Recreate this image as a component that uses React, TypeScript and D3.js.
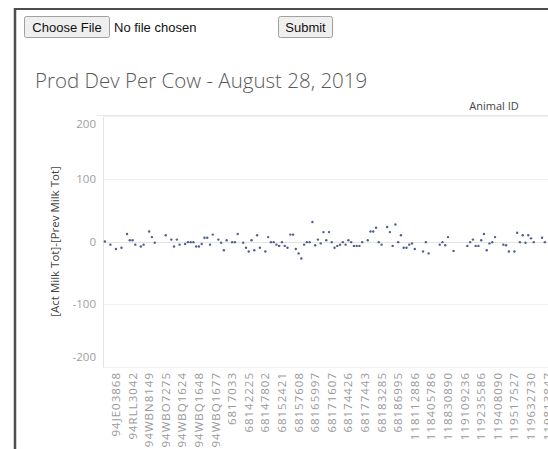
import React from "react";
import * as d3 from "d3";

const W = 548;
const H = 449;

// Tick labels (every 6th animal, starting at the 5th)
const animalLabels: string[] = [
  "94JE03868", "94RLL3042", "94WBN8149", "94WBO7275", "94WBQ1624", "94WBQ1648",
  "94WBQ1677", "6817033", "68142225", "68147802", "68152421", "68157608",
  "68165997", "68171607", "68174426", "68177443", "68183285", "68186995",
  "118112886", "118405786", "118830890", "119109236", "119235586", "119408090",
  "119517527", "119632730", "119813847",
];
const labelStart = 4;
const labelEvery = 6;

// [Act Milk Tot]-[Prev Milk Tot] per animal (null = no value)
const deviations: (number | null)[] = [
  0, null, -5, null, -12, null, -10, null, 12, 2,
  2, -5, null, -8, -5, null, 16, 7, -2, null,
  null, null, 10, null, 3, -8, 3, -5, null, -4,
  -1, -1, -1, -8, -8, -4, 6, 6, -5, 11,
  null, 3, -2, -14, 2, null, -1, -1, 12, null,
  -2, -10, -16, 2, -14, 10, -10, null, -16, 7,
  -1, -1, -5, -7, -1, -7, -10, 11, 11, -12,
  -19, -27, -5, -1, -1, 31, -6, 3, -3, 15,
  2, 15, -1, -10, -7, -5, -1, -5, 2, -1,
  -7, -7, -7, -1, null, 2, 16, 16, 22, -1,
  -5, null, 23, 15, -7, 27, -1, 10, -10, -10,
  -5, -3, -12, null, null, -16, -1, -19, null, null,
  null, -5, -1, -6, 7, null, -15, null, null, null,
  null, -7, -1, 3, -7, -7, 2, 12, -14, -3,
  -1, 7, null, null, -5, -6, -16, null, -16, 14,
  -1, 10, -2, 10, 5, -1, null, null, 6, -1,
  null, null, null, null,
];

const yTicks = [200, 100, 0, -100, -200];

export default function App() {
  const plotTop = 116;
  const plotBottom = 367;
  const plotLeft = 103;
  const step = 2.767;

  const y = d3.scaleLinear().domain([-200, 200]).range([plotBottom, plotTop]);
  const x = d3
    .scaleBand<number>()
    .domain(d3.range(deviations.length))
    .range([plotLeft + 0.5, plotLeft + 0.5 + step * deviations.length])
    .padding(0);
  const cx = (i: number) => (x(i) as number) + x.bandwidth() / 2;

  const font = "'Open Sans', 'Liberation Sans', Arial, sans-serif";
  const btnFont = "'Liberation Sans', Arial, sans-serif";

  return (
    <div style={{ position: "fixed", left: 0, top: 0, width: W, height: H, overflow: "hidden", background: "#fff" }}>
      <svg width={W} height={H} style={{ display: "block" }}>
        <rect x={0} y={0} width={W} height={H} fill="#fff" />
        {/* frame */}
        <line x1={14} x2={W} y1={9} y2={9} stroke="#4d4d4d" strokeWidth={2} />
        <line x1={15} x2={15} y1={8} y2={H} stroke="#4d4d4d" strokeWidth={2.5} />

        {/* file input & submit */}
        <rect x={24.5} y={16.5} width={85} height={21} rx={2} fill="#efefef" stroke="#a0a0a0" />
        <text x={67} y={31.5} textAnchor="middle" fontFamily={btnFont} fontSize={13} fill="#111">Choose File</text>
        <text x={114} y={31.5} fontFamily={btnFont} fontSize={13} fill="#111">No file chosen</text>
        <rect x={278.5} y={16.5} width={54} height={21} rx={2} fill="#efefef" stroke="#a0a0a0" />
        <text x={305.5} y={31.5} textAnchor="middle" fontFamily={btnFont} fontSize={13} fill="#111">Submit</text>

        {/* title */}
        <text x={35} y={88} fontFamily={font} fontWeight={300} fontSize={20.5} fill="#5a5a5a">
          Prod Dev Per Cow - August 28, 2019
        </text>

        {/* column header */}
        <text x={494} y={110} textAnchor="middle" fontFamily={font} fontSize={11} fill="#444">Animal ID</text>
        <line x1={97} x2={W} y1={plotTop - 0.5} y2={plotTop - 0.5} stroke="#e8e8e8" />

        {/* grid */}
        {yTicks.map((t) => (
          <line key={"g" + t} x1={plotLeft} x2={W} y1={Math.round(y(t)) + 0.5} y2={Math.round(y(t)) + 0.5}
            stroke={t === 0 ? "#e4e4e4" : "#f0f0f0"} />
        ))}
        <line x1={plotLeft + 0.5} x2={plotLeft + 0.5} y1={plotTop} y2={plotBottom} stroke="#e4e4e4" />

        {/* y tick labels */}
        {yTicks.map((t) => {
          let yy = y(t) + 4;
          if (t === 200) yy = y(t) + 12;
          if (t === -200) yy = y(t) - 6;
          return (
            <text key={"t" + t} x={96} y={yy} textAnchor="end" fontFamily={font} fontSize={11.5} fill="#a0a0a0">
              {t}
            </text>
          );
        })}

        {/* y axis title */}
        <text transform={`translate(59,${y(0)}) rotate(-90)`} textAnchor="middle" fontFamily={font}
          fontSize={11.5} fill="#444">
          [Act Milk Tot]-[Prev Milk Tot]
        </text>

        {/* x tick labels */}
        {animalLabels.map((lab, k) => {
          const i = labelStart + k * labelEvery;
          return (
            <text key={lab} transform={`translate(${cx(i)},${plotBottom + 5}) rotate(-90)`} textAnchor="end"
              dy="0.35em" fontFamily={font} fontSize={11.5} letterSpacing={1} fill="#9a9a9a">
              {lab}
            </text>
          );
        })}

        {/* points */}
        {deviations.map((v, i) =>
          v === null ? null : (
            <circle key={"p" + i} cx={cx(i)} cy={y(v)} r={1.2} fill="#4f5f8f" />
          )
        )}
      </svg>
    </div>
  );
}
